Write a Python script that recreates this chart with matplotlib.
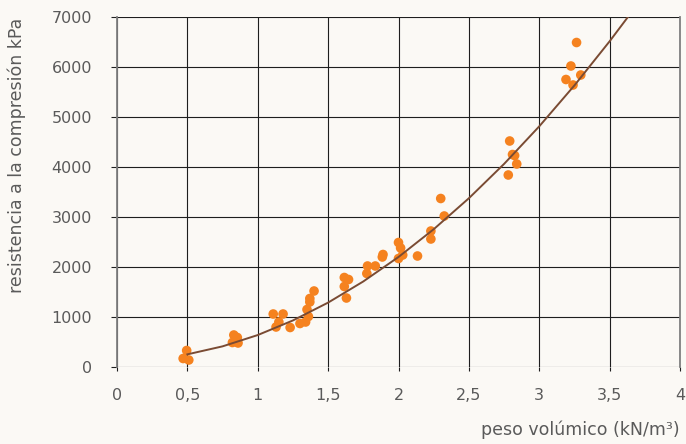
import matplotlib.pyplot as plt
import numpy as np

# measured points (peso volúmico, resistencia)
px = [0.47, 0.495, 0.51,
      0.83, 0.855, 0.82, 0.86, 0.84,
      1.11, 1.18, 1.13, 1.15, 1.23, 1.30, 1.34, 1.36, 1.35, 1.37, 1.37, 1.40,
      1.615, 1.645, 1.615, 1.63,
      1.78, 1.775, 1.835, 1.89, 1.885,
      2.0, 2.015, 2.03, 2.0, 2.135,
      2.23, 2.23, 2.30, 2.325,
      2.79, 2.81, 2.825, 2.84, 2.78,
      3.265, 3.225, 3.19, 3.295, 3.24]
py = [170, 330, 140,
      640, 590, 490, 480, 510,
      1060, 1060, 800, 900, 790, 870, 900, 1010, 1150, 1300, 1370, 1520,
      1790, 1750, 1610, 1380,
      2020, 1870, 2020, 2250, 2200,
      2490, 2380, 2240, 2170, 2220,
      2720, 2560, 3370, 3020,
      4520, 4250, 4230, 4060, 3840,
      6490, 6020, 5750, 5840, 5640]

# trend curve
cx = [0.5, 0.75, 1.0, 1.25, 1.5, 1.75, 2.0, 2.25, 2.5, 2.75, 3.0, 3.25, 3.5, 3.63]
cy = [253, 413, 639, 931, 1288, 1711, 2200, 2755, 3375, 4061, 4813, 5632, 6514, 7000]

xticks = [0, 0.5, 1, 1.5, 2, 2.5, 3, 3.5, 4]
xlabels = ['0', '0,5', '1', '1,5', '2', '2,5', '3', '3,5', '4']
yticks = [0, 1000, 2000, 3000, 4000, 5000, 6000, 7000]

bg = '#fbf9f5'
txt = '#5a5a5a'

fig = plt.figure(figsize=(6.86, 4.44), dpi=100, facecolor=bg)
ax = fig.add_axes([117/686, 1-367/444, 563/686, 350/444], facecolor=bg)

ax.set_xlim(0, 4)
ax.set_ylim(0, 7000)
ax.set_xticks(xticks)
ax.set_xticklabels(xlabels)
ax.set_yticks(yticks)

ax.grid(True, color='#1e1e1e', linewidth=0.8)
ax.set_axisbelow(True)
for s in ['top', 'bottom']:
    ax.spines[s].set_visible(False)
for s in ['left', 'right']:
    ax.spines[s].set_color('#808080')
    ax.spines[s].set_linewidth(1.3)
    ax.spines[s].set_zorder(5)

ax.tick_params(axis='y', length=4, width=0.8, color='#1e1e1e', pad=14,
               labelsize=11.5, labelcolor=txt)
ax.tick_params(axis='x', length=3, width=0.8, color='#1e1e1e', pad=12,
               labelsize=11.5, labelcolor=txt)

ax.scatter(px, py, s=48, color='#f5821f', edgecolors='none', zorder=3)
ax.plot(cx, cy, color='#7a4b33', linewidth=1.4, zorder=4)

fig.text(680/686, 1-430/444, 'peso volúmico (kN/m³)', ha='right', va='center',
         fontsize=12.5, color=txt)
fig.text(17/686, 1-18/444, 'resistencia a la compresión kPa', rotation=90,
         ha='center', va='top', fontsize=12.5, color=txt)

fig.savefig('out.png', dpi=100, facecolor=bg)
